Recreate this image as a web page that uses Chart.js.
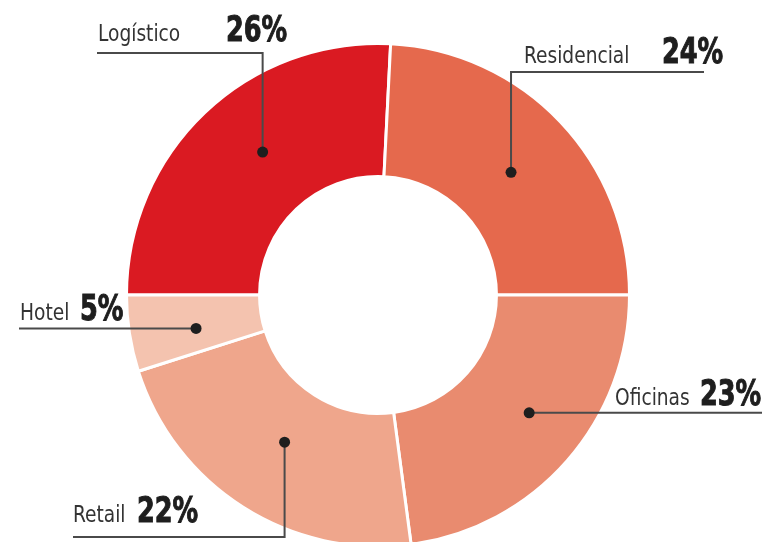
<!DOCTYPE html>
<html>
<head>
<meta charset="utf-8">
<script src="https://cdn.jsdelivr.net/npm/chart.js@4.4.1/dist/chart.umd.min.js"></script>
<style>
  html, body { margin: 0; padding: 0; background: #fff; }
  #wrap { width: 765px; height: 542px; overflow: hidden; }
</style>
</head>
<body>
<div id="wrap"><canvas id="chart" width="765" height="542"></canvas></div>
<script>
// data
const categories = ['Logístico', 'Residencial', 'Oficinas', 'Retail', 'Hotel'];
const shares = [25.8, 24.2, 22.9, 22.2, 4.9];
const sliceColors = ['#DA1A22', '#E5694D', '#E98B6F', '#EFA68C', '#F4C3AF'];

// where each leader line goes (dot position on the slice + elbow + label)
const leaders = [
  { frac: 0.55, ring: 0.49, dir: 'up',    to: 53,  end: 97,  nameX: 98,  numX: 226, base: 41 },
  { frac: 0.51, ring: 0.47, dir: 'up',    to: 72,  end: 704, nameX: 524, numX: 662, base: 63 },
  { frac: 0.46, ring: 0.55, dir: 'right', end: 762, nameX: 615, numX: 700, base: 405 },
  { frac: 0.50, ring: 0.42, dir: 'down',  to: 537, end: 73,  nameX: 73,  numX: 137, base: 522 },
  { frac: 0.41, ring: 0.50, dir: 'left',  end: 19,  nameX: 20,  numX: 80,  base: 320 }
];

// condensed look: no narrow font installed, so squeeze horizontally
const nameFont = '23px "Liberation Sans Narrow", "DejaVu Sans Condensed", sans-serif';
const numFont = 'bold 36px "Liberation Sans Narrow", "DejaVu Sans Condensed", sans-serif';
const nameSqueeze = 0.9;
const numSqueeze = 0.79;

function squeezedText(ctx, text, x, y, sx, heavy) {
  ctx.save();
  ctx.translate(x, y);
  ctx.scale(sx, 1);
  ctx.fillText(text, 0, 0);
  if (heavy) {
    ctx.lineWidth = 1;
    ctx.strokeStyle = ctx.fillStyle;
    ctx.strokeText(text, 0, 0);
  }
  ctx.restore();
}

const leaderPlugin = {
  id: 'leaders',
  afterDatasetsDraw(chart) {
    const ctx = chart.ctx;
    const arcs = chart.getDatasetMeta(0).data;
    ctx.save();
    arcs.forEach((arc, i) => {
      const l = leaders[i];
      const a = arc.startAngle + l.frac * (arc.endAngle - arc.startAngle);
      const r = arc.innerRadius + l.ring * (arc.outerRadius - arc.innerRadius);
      const px = arc.x + r * Math.cos(a);
      const py = arc.y + r * Math.sin(a);

      ctx.strokeStyle = '#4a4a4a';
      ctx.lineWidth = 2;
      ctx.beginPath();
      ctx.moveTo(px, py);
      if (l.dir === 'up' || l.dir === 'down') {
        ctx.lineTo(px, l.to);
        ctx.lineTo(l.end, l.to);
      } else {
        ctx.lineTo(l.end, py);
      }
      ctx.stroke();

      ctx.fillStyle = '#1e1e1e';
      ctx.beginPath();
      ctx.arc(px, py, 5.5, 0, Math.PI * 2);
      ctx.fill();

      ctx.textBaseline = 'alphabetic';
      ctx.textAlign = 'left';
      ctx.fillStyle = '#333';
      ctx.font = nameFont;
      squeezedText(ctx, categories[i], l.nameX, l.base, nameSqueeze, false);
      ctx.fillStyle = '#1e1e1e';
      ctx.font = numFont;
      squeezedText(ctx, Math.round(shares[i]) + '%', l.numX, l.base, numSqueeze, true);
    });
    ctx.restore();
  }
};

new Chart(document.getElementById('chart'), {
  type: 'doughnut',
  data: {
    labels: categories,
    datasets: [{
      data: shares,
      backgroundColor: sliceColors,
      borderColor: '#ffffff',
      borderWidth: 3
    }]
  },
  options: {
    responsive: false,
    animation: false,
    rotation: -90,
    radius: 251.5,
    cutout: '47.1%',
    layout: { padding: { top: 48, right: 9, left: 0, bottom: 0 } },
    plugins: {
      legend: { display: false },
      tooltip: { enabled: false }
    }
  },
  plugins: [leaderPlugin]
});
</script>
</body>
</html>
